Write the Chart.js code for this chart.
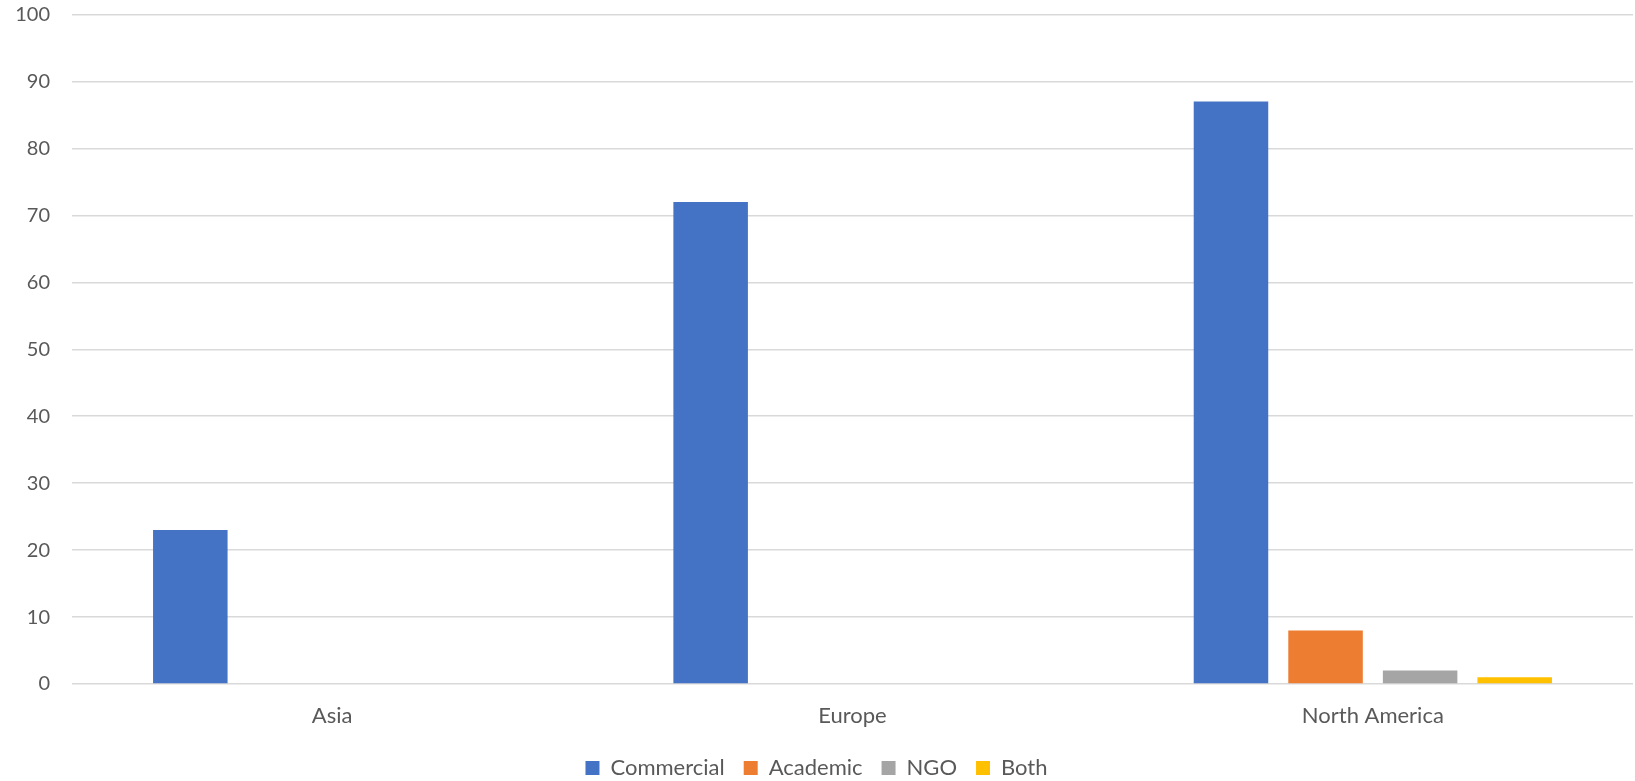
<!DOCTYPE html>
<html>
<head>
<meta charset="utf-8">
<script src="https://cdn.jsdelivr.net/npm/chart.js@4"></script>
<style>
  html, body { margin: 0; padding: 0; background: #ffffff; }
  #wrap { width: 1635px; height: 781px; position: relative; }
</style>
</head>
<body>
<div id="wrap"><canvas id="chart"></canvas></div>
<script>
// Regions on the category axis
const regions = ['Asia', 'Europe', 'North America'];

// Counts per organisation type
const commercial = [23, 72, 87];
const academic = [0, 0, 8];
const ngo = [0, 0, 2];
const both = [0, 0, 1];

// Value axis range and step
const yMin = 0;
const yMax = 100;
const yStep = 10;

const fontFamily = 'Lato, "Liberation Sans", sans-serif';
const textColor = '#595959';

const barOpts = { categoryPercentage: 0.727, barPercentage: 0.788, borderWidth: 0 };

new Chart(document.getElementById('chart'), {
  type: 'bar',
  data: {
    labels: regions,
    datasets: [
      { label: 'Commercial', data: commercial, backgroundColor: '#4472C4', ...barOpts },
      { label: 'Academic', data: academic, backgroundColor: '#ED7D31', ...barOpts },
      { label: 'NGO', data: ngo, backgroundColor: '#A5A5A5', ...barOpts },
      { label: 'Both', data: both, backgroundColor: '#FFC000', ...barOpts }
    ]
  },
  options: {
    responsive: true,
    maintainAspectRatio: false,
    animation: false,
    layout: { padding: { top: 14.5, right: 2, bottom: -8, left: 0 } },
    scales: {
      x: {
        grid: { display: false },
        border: { display: false },
        ticks: { color: textColor, font: { family: fontFamily, size: 22 }, padding: 11 },
        afterFit: s => { s.height = 54; }
      },
      y: {
        min: yMin,
        max: yMax,
        ticks: { stepSize: yStep, color: textColor, font: { family: fontFamily, size: 20 }, padding: 22 },
        grid: { color: '#d9d9d9', lineWidth: 1.5, drawTicks: false },
        border: { display: false },
        afterFit: s => {
          s.width = 72;
          // keep the label padding from pushing the plot area inward
          s.paddingTop = 0;
          s.paddingBottom = 0;
        }
      }
    },
    plugins: {
      legend: {
        position: 'bottom',
        labels: {
          color: textColor,
          font: { family: fontFamily, size: 22 },
          boxWidth: 14,
          boxHeight: 14,
          padding: 19
        }
      },
      tooltip: { enabled: false }
    }
  }
});
</script>
</body>
</html>
